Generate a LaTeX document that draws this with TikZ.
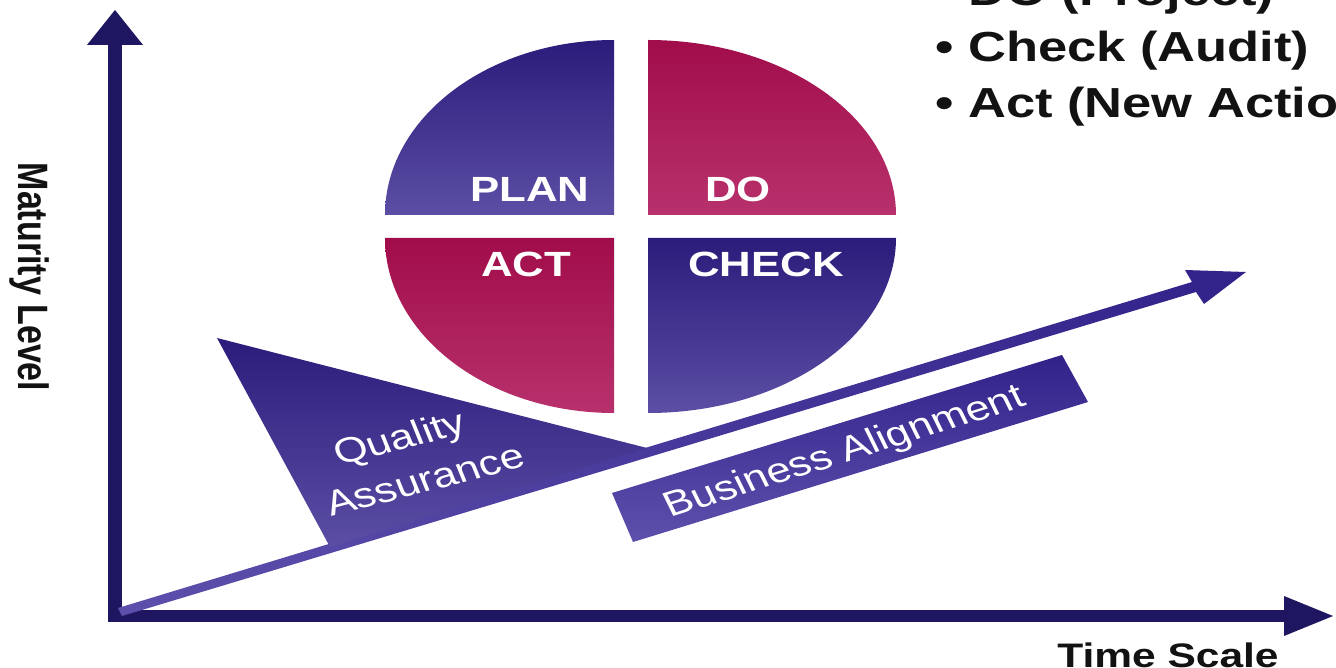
\documentclass[tikz,border=0pt]{standalone}
\usepackage{fontspec}
\setmainfont{Liberation Sans}
\definecolor{axisnavy}{HTML}{1E1660}
\definecolor{navydark}{HTML}{2B1C7B}
\definecolor{navylight}{HTML}{5B4EA4}
\definecolor{crimdark}{HTML}{A10D4A}
\definecolor{crimlight}{HTML}{B8316C}
\definecolor{bandlight}{HTML}{5D50AC}
\definecolor{banddark}{HTML}{31228A}
\definecolor{inktext}{HTML}{121212}
\begin{document}
\begin{tikzpicture}[x=1pt,y=-1pt,
  bluequad/.style={top color=navydark,bottom color=navylight},
  redquad/.style={top color=crimdark,bottom color=crimlight},
  quadlabel/.style={text=white,font=\fontsize{35}{40}\selectfont\bfseries,
    xscale=1.25,anchor=base,inner sep=0pt},
  axislabel/.style={text=inktext,font=\fontsize{34}{40}\selectfont\bfseries,
    xscale=1.25,anchor=base,inner sep=0pt},
  listitem/.style={text=inktext,font=\fontsize{42}{50}\selectfont\bfseries,
    xscale=1.25,anchor=base west,inner sep=0pt},
  bandtext/.style={text=white,font=\fontsize{35}{40}\selectfont,
    xscale=1.25,anchor=base west,inner sep=0pt}]
\useasboundingbox (0,0) rectangle (1336,668);
\clip (0,0) rectangle (1336,668);
\fill[white] (0,0) rectangle (1336,668);

% axes
\fill[axisnavy] (108,40) rectangle (122,622);
\fill[axisnavy] (108,610) rectangle (1286,622);
\fill[axisnavy] (115,10) -- (143,45) -- (87,45) -- cycle;
\fill[axisnavy] (1333,616) -- (1284,596) -- (1284,636) -- cycle;

% rising arrow
\shade[left color=bandlight,right color=banddark]
  (118,608) -- (1192,282) -- (1185,270) -- (1246,272) -- (1204,304)
  -- (1196,292) -- (122,616) -- cycle;

% quality assurance wedge
\shade[top color=navydark,bottom color=navylight]
  (217,338) -- (647,448) -- (330,547) -- cycle;

% business alignment band
\shade[top color=banddark,bottom color=bandlight]
  (612,493) -- (1062,355) -- (1088,402) -- (633,542) -- cycle;

% PDCA quadrants
\shade[bluequad] (614,215) -- (385,215)
  arc[start angle=180,end angle=270,x radius=229,y radius=175] -- cycle;
\shade[redquad] (648,215) -- (648,40)
  arc[start angle=270,end angle=360,x radius=248,y radius=175] -- cycle;
\shade[redquad] (614,238) -- (385,238)
  arc[start angle=180,end angle=90,x radius=229,y radius=175] -- cycle;
\shade[bluequad] (648,238) -- (896,238)
  arc[start angle=0,end angle=90,x radius=248,y radius=175] -- cycle;

\node[quadlabel] (plan) at (530,202) {PLAN};
\node[quadlabel] (do) at (738,202) {DO};
\node[quadlabel] (act) at (526,277) {ACT};
\node[quadlabel] (check) at (766,277) {CHECK};

% axis labels
\node[axislabel,rotate=-90] (maturity) at (19,277) {Maturity Level};
\node[axislabel] (timescale) at (1168,667) {Time Scale};

% cycle steps
\node[listitem] (itemdo) at (935,6) {• DO (Project)};
\node[listitem] (itemcheck) at (935,62) {• Check (Audit)};
\node[listitem] (itemact) at (935,118) {• Act (New Action)};

% band texts
\node[bandtext,rotate=18] (quality) at (339,466) {Quality};
\node[bandtext,rotate=18] (assurance) at (331,517) {Assurance};
\node[bandtext,rotate=21.5] (business) at (670,518) {Business Alignment};
\end{tikzpicture}
\end{document}
